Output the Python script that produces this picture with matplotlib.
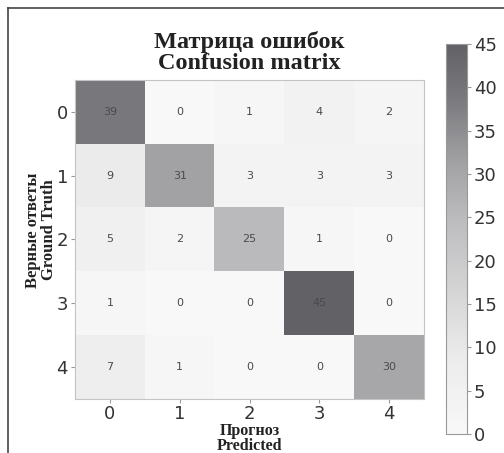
import numpy as np
import matplotlib
matplotlib.use("Agg")
import matplotlib.pyplot as plt
from matplotlib.colors import LinearSegmentedColormap
from matplotlib.lines import Line2D

classes = ["0", "1", "2", "3", "4"]
matrix = [
    [39, 0, 1, 4, 2],
    [9, 31, 3, 3, 3],
    [5, 2, 25, 1, 0],
    [1, 0, 0, 45, 0],
    [7, 1, 0, 0, 30],
]
cbar_ticks = [0, 5, 10, 15, 20, 25, 30, 35, 40, 45]

cm = np.array(matrix)
# scanned grey ramp, light for most of the range and darkening near the top
cmap = LinearSegmentedColormap.from_list("grays", [
    (0.0, "#f8f8f8"),
    (0.2, "#ebebeb"),
    (0.55, "#bcbcbe"),
    (0.69, "#a3a3a6"),
    (0.87, "#78787c"),
    (1.0, "#626266"),
])

fig = plt.figure(figsize=(5.04, 4.53), dpi=100)
ax = fig.add_axes([75 / 504, 1 - 399 / 453, 349 / 504, 319 / 453])
cax = fig.add_axes([446 / 504, 1 - 434 / 453, 21 / 504, 390 / 453])

im = ax.imshow(cm, cmap=cmap, vmin=0, vmax=45, aspect="auto")
for i in range(cm.shape[0]):
    for j in range(cm.shape[1]):
        ax.text(j, i, str(cm[i, j]), ha="center", va="center",
                fontsize=8, color="#4a4a4a")

ax.set_xticks(range(len(classes)))
ax.set_yticks(range(len(classes)))
ax.set_xticklabels(classes, fontsize=13, color="#333333")
ax.set_yticklabels(classes, fontsize=13, color="#333333")
ax.tick_params(length=3, color="#999999", pad=2)
ax.tick_params(axis="x", pad=1)
for s in ax.spines.values():
    s.set_color("#c4c4c4")

serif = {"family": "Liberation Serif", "weight": "bold", "color": "#222222"}
ax.set_title("Матрица ошибок\nConfusion matrix", fontsize=17.5, pad=8,
             linespacing=1.0, **serif)
ax.set_xlabel("Прогноз\nPredicted", fontsize=11.5, labelpad=0,
              linespacing=0.95, **serif)
ax.set_ylabel("Верные ответы\nGround Truth", fontsize=12,
              linespacing=1.0, **serif)
ax.yaxis.set_label_coords(-0.052, 0.53)

cb = fig.colorbar(im, cax=cax, ticks=cbar_ticks)
cb.outline.set_edgecolor("#999999")
cb.ax.tick_params(labelsize=13, labelcolor="#333333", length=3,
                  color="#999999", pad=2)

# scanned frame on top and left
fig.add_artist(Line2D([8 / 504, 8 / 504], [0, 1 - 8 / 453],
                      transform=fig.transFigure, color="#444444", lw=1.2))
fig.add_artist(Line2D([8 / 504, 1], [1 - 8 / 453, 1 - 8 / 453],
                      transform=fig.transFigure, color="#444444", lw=1.2))

fig.savefig("out.png", dpi=100)
